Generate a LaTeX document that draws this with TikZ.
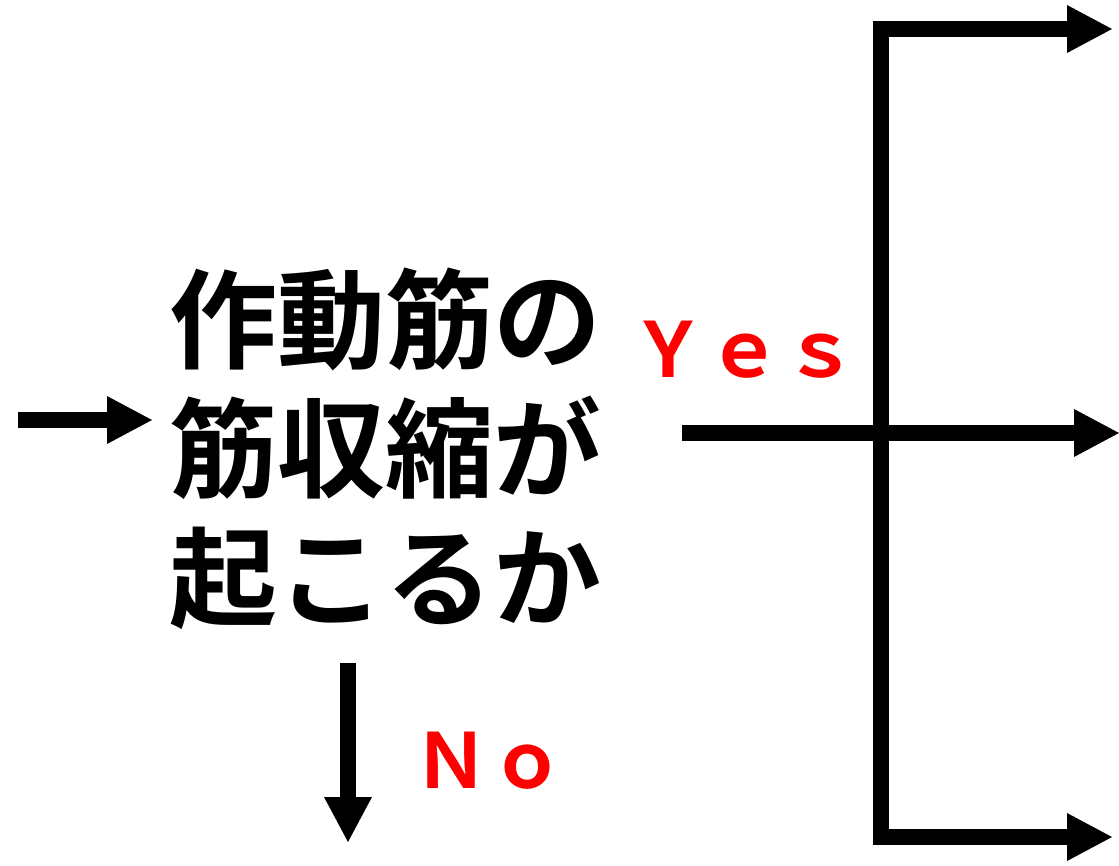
\documentclass[tikz,border=0pt]{standalone}
\usepackage{fontspec}
\usepackage{tikz}
\usetikzlibrary{arrows.meta}
\newfontfamily\jpfont{Noto Sans CJK JP Bold}

\begin{document}
\begin{tikzpicture}[x=1pt, y=-1pt,
    flow/.style={line width=16pt, -{Triangle[length=45pt, width=48pt, line width=0pt]}},
    question/.style={font=\jpfont\fontsize{108}{129}\selectfont, align=center, inner sep=0pt},
    answer/.style={font=\jpfont\fontsize{76}{90}\selectfont, text=red, inner sep=0pt}]
    \useasboundingbox (0,0) rectangle (1119,865);

    \node[question] (ask) at (385,449) {作動筋の\\筋収縮が\\起こるか};
    \node[answer] (yes) at (744,350) {Ｙｅｓ};
    \node[answer] (no) at (489,761) {Ｎｏ};

    \coordinate (in) at (18,420);
    \coordinate (inTip) at (152,420);
    \coordinate (yesStart) at (682,433);
    \coordinate (yesTip) at (1119,433);
    \coordinate (topTip) at (1112,29);
    \coordinate (botTip) at (1112,837);
    \coordinate (noStart) at (348,663);
    \coordinate (noTip) at (348,842);

    \draw[flow] (in) -- (inTip);
    \draw[flow] (yesStart) -- (yesTip);
    \draw[flow, {Triangle[length=45pt, width=48pt, line width=0pt]}-{Triangle[length=45pt, width=48pt, line width=0pt]}]
        (topTip) -- (881,29) -- (881,837) -- (botTip);
    \draw[flow] (noStart) -- (noTip);

\end{tikzpicture}
\end{document}
